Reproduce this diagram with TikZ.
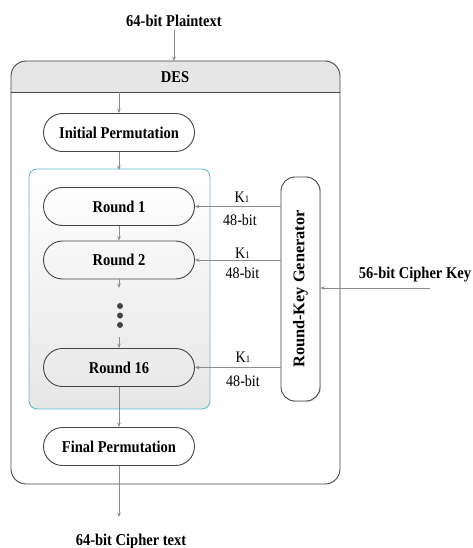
\documentclass[tikz,border=0pt]{standalone}
\usepackage{fontspec}
\setmainfont[FakeStretch=0.88]{Liberation Serif}
\newfontfamily\widefont{Liberation Serif}
\usetikzlibrary{arrows.meta,shadows}
\definecolor{linegray}{HTML}{8C8C8C}
\definecolor{edgegray}{HTML}{444444}
\definecolor{headgray}{HTML}{E6E6E6}
\definecolor{frameblue}{HTML}{5BB8DA}
\begin{document}
\begin{tikzpicture}[x=1pt,y=-1pt,
  flow/.style={draw=linegray, line width=0.9pt, -{Stealth[length=4.5pt,width=3.6pt]}},
  pill/.style={draw=edgegray, line width=0.9pt, rounded corners=19pt,
    minimum width=151pt, minimum height=38pt, inner sep=0pt,
    font=\fontsize{16.5}{19}\selectfont\bfseries},
  lbl/.style={inner sep=0pt, font=\fontsize{16.5}{19}\selectfont\bfseries},
  keylbl/.style={inner sep=0pt, font=\fontsize{16}{18}\selectfont},
  dot/.style={circle, fill=edgegray, inner sep=0pt, minimum size=6pt}
]
\useasboundingbox (0,0) rectangle (473,548);

% outer DES frame with its grey header band
\begin{scope}
  \clip[rounded corners=15pt] (11,61) rectangle (340,484);
  \fill[headgray] (11,61) rectangle (340,92);
\end{scope}
\draw[edgegray, line width=0.9pt, rounded corners=15pt] (11,61) rectangle (340,484);
\draw[edgegray, line width=0.7pt] (11,92) -- (340,92);
\node[lbl] (des) at (175,77) {DES};

% shaded frame around the sixteen rounds
\shade[top color=white, bottom color=headgray, rounded corners=8pt]
  (29,169) rectangle (210,409);
\draw[frameblue, line width=0.9pt, rounded corners=8pt] (29,169) rectangle (210,409);

% input and output labels
\node[lbl] (pt) at (174,21) {64-bit Plaintext};
\node[lbl, anchor=base] (ct) at (131,545) {64-bit Cipher text};
\node[lbl, anchor=base] (ck) at (415,278) {56-bit Cipher Key};

% processing stages
\node[pill, fill=white] (ip) at (119,132.5) {Initial Permutation};
\node[pill] (r1) at (119,206.5) {Round 1};
\node[pill] (r2) at (119,260) {Round 2};
\node[pill] (r16) at (119,367.5) {Round 16};
\node[pill, fill=white] (fp) at (119,446.5) {Final Permutation};

\node[dot] (d1) at (120,306) {};
\node[dot] (d2) at (120,315.5) {};
\node[dot] (d3) at (120,325) {};

% key schedule
\node[draw=edgegray, line width=0.9pt, fill=white, rounded corners=14pt,
  minimum width=224pt, minimum height=39pt, inner sep=0pt, rotate=90,
  drop shadow={shadow xshift=1pt, shadow yshift=-1pt, opacity=0.25},
  font=\widefont\fontsize{16.3}{18}\selectfont\bfseries] (rkg) at (300.5,289) {Round-Key Generator};

% anchor points for the free ends of connectors
\coordinate (ptin) at (174,30);
\coordinate (destop) at (174,61);
\coordinate (hdr) at (119,92);
\coordinate (r2out) at (119,288);
\coordinate (r16in) at (119,337);
\coordinate (ctend) at (119,517);
\coordinate (ckin) at (430,288);

% data path
\draw[flow] (ptin) -- (destop);
\draw[flow] (hdr) -- (ip.north);
\draw[flow] (ip.south) -- (119,170);
\draw[flow] (r1.south) -- (r2.north);
\draw[flow] (r2.south) -- (r2out);
\draw[flow] (r16in) -- (r16.north);
\draw[flow] (r16.south) -- (fp.north);
\draw[flow] (fp.south) -- (ctend);

% round keys
\draw[flow] (rkg.north |- r1.east) -- (r1.east);
\draw[flow] (rkg.north |- r2.east) -- (r2.east);
\draw[flow] (rkg.north |- r16.east) -- (r16.east);
\draw[flow] (ckin) -- (rkg.south |- ckin);

\node[keylbl] (k1) at (242,197) {K{\fontsize{10}{10}\selectfont 1}};
\node[keylbl] (b1) at (240,220) {48-bit};
\node[keylbl] (k2) at (242.5,253) {K{\fontsize{10}{10}\selectfont 1}};
\node[keylbl] (b2) at (242.5,273) {48-bit};
\node[keylbl] (k16) at (243,357) {K{\fontsize{10}{10}\selectfont 1}};
\node[keylbl] (b16) at (243,381) {48-bit};
\end{tikzpicture}
\end{document}
